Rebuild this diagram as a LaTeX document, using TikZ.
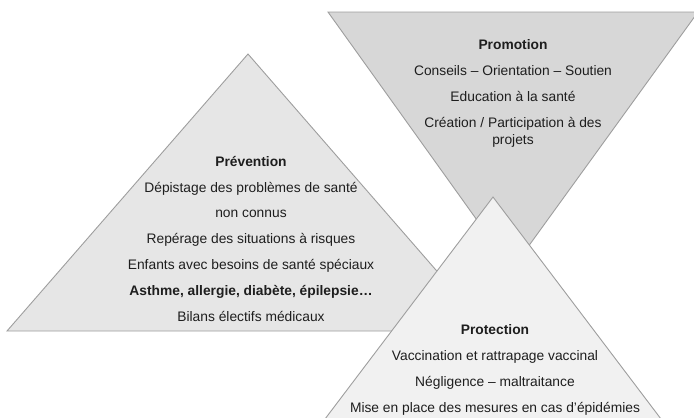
\documentclass[tikz,border=0pt]{standalone}
\usepackage{fontspec}
\setmainfont{Liberation Sans}
\definecolor{prevfill}{HTML}{E6E6E6}
\definecolor{promfill}{HTML}{D7D7D7}
\definecolor{protfill}{HTML}{F1F1F1}
\definecolor{edgegray}{HTML}{9E9E9E}
\definecolor{textgray}{HTML}{1E1E1E}

\begin{document}
\begin{tikzpicture}[x=1pt,y=-1pt,
	tri/.style={draw=edgegray, line width=0.9pt, line join=miter},
	txt/.style={align=center, inner sep=0pt, text=textgray,
		font=\fontsize{13.8}{25.9}\selectfont, anchor=base}]
		\useasboundingbox (0,0) rectangle (694,418);
		\clip (0,0) rectangle (694,418);
		% the three triangles, back to front
		\draw [tri, fill=prevfill] (7,331) -- (248,54) -- (489,331) -- cycle;
		\draw [tri, fill=promfill] (328,12) -- (698,12) -- (512,269) -- cycle;
		\draw [tri, fill=protfill] (325,419) -- (493,197) -- (661,419);
		% texts (anchored on the baseline of the last line)
		\node [txt] (prevention) at (251,321.5) {\textbf{Prévention}\\
			Dépistage des problèmes de santé\\
			non connus\\
			Repérage des situations à risques\\
			Enfants avec besoins de santé spéciaux\\
			\textbf{Asthme, allergie, diabète, épilepsie…}\\
			Bilans électifs médicaux};
		\node [txt] (promotion) at (513,144.5) {\textbf{Promotion}\\
			Conseils – Orientation – Soutien\\
			Education à la santé\\
			Création / Participation à des\\[-8.8pt]
			projets};
		\node [txt] (protection) at (495,412.5) {\textbf{Protection}\\
			Vaccination et rattrapage vaccinal\\
			Négligence – maltraitance\\
			Mise en place des mesures en cas d’épidémies};
	\end{tikzpicture}
\end{document}
